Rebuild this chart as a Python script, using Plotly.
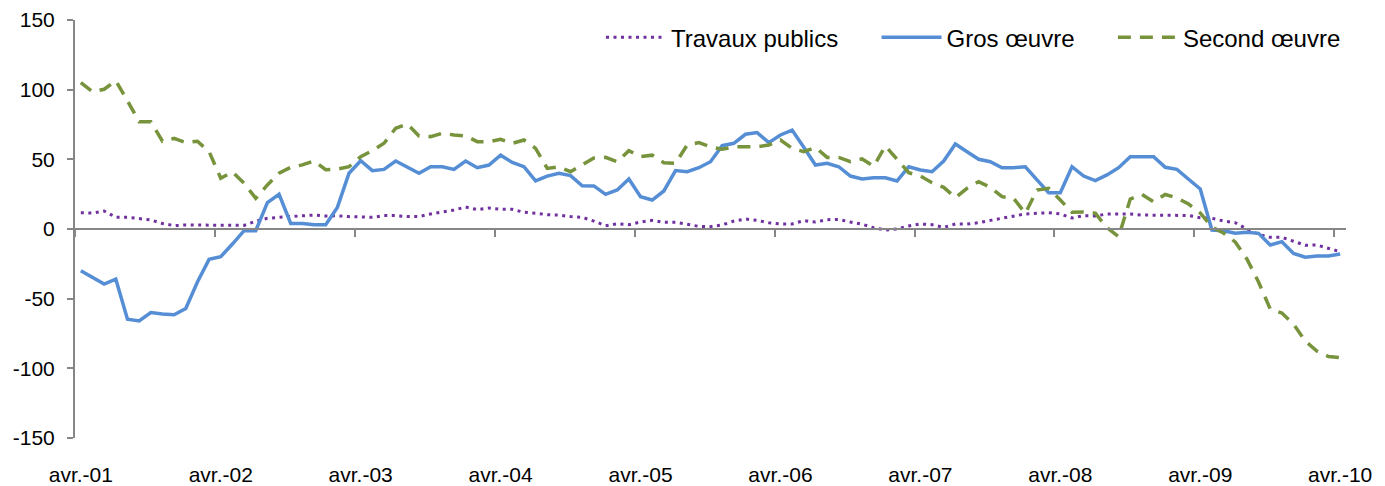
import plotly.graph_objects as go

# Monthly data, avr. 2001 -> avr. 2010 (109 months)
years = ["01", "02", "03", "04", "05", "06", "07", "08", "09", "10"]
tick_labels = ["avr.-" + y for y in years]
y_ticks = [-150, -100, -50, 0, 50, 100, 150]
y_tick_labels = [str(v) for v in y_ticks]

travaux_publics = [
    11.7, 11.5, 12.9, 8.4, 8.4, 7.2, 6.5, 4.0, 2.4, 2.9, 2.9, 2.9,
    2.9, 2.6, 2.6, 5.7, 7.7, 8.4, 8.9, 9.8, 10.0, 9.3, 9.5, 8.9,
    8.6, 8.4, 9.6, 9.6, 8.9, 8.9, 10.8, 12.0, 13.6, 15.8, 13.9, 15.1,
    14.1, 14.1, 12.0, 11.3, 10.3, 10.0, 8.9, 8.4, 5.7, 2.4, 3.8, 3.1,
    5.0, 6.2, 4.8, 4.8, 3.6, 1.9, 1.7, 2.9, 5.7, 7.2, 6.2, 4.5,
    3.6, 3.6, 6.0, 5.0, 6.7, 6.9, 5.0, 3.4, 0.9, -0.7, 0.0, 2.2,
    3.6, 3.1, 1.2, 3.6, 3.6, 4.5, 6.2, 7.7, 9.1, 10.8, 11.3, 11.7,
    10.8, 7.9, 9.6, 9.3, 10.8, 10.8, 10.8, 10.0, 10.0, 10.0, 10.0, 9.7,
    8.1, 7.7, 5.7, 4.5, 0.0, -3.8, -6.0, -6.0, -8.8, -11.7, -11.5, -14.1,
    -16.3,
]

gros_oeuvre = [
    -30, -34.7, -39.5, -36, -64.8, -66, -60, -61, -61.5, -57, -38, -21.8,
    -19.9, -10.8, -1.2, -1.2, 18.9, 24.9, 4, 4, 3, 3, 15.5, 40,
    49, 41.9, 42.8, 48.8, 44.7, 40, 44.7, 44.7, 42.8, 48.8, 44, 45.9,
    53, 47.8, 44.7, 34.5, 38, 40, 38.3, 31, 30.9, 24.9, 28, 35.9,
    23.2, 20.8, 27.3, 41.9, 41.1, 44, 48.3, 59.8, 61.5, 68, 69.2, 62,
    67.5, 71, 58.6, 45.9, 47.1, 44.7, 38, 35.9, 36.8, 36.8, 34.5, 44.7,
    42.4, 41.1, 48.8, 61, 55.5, 50, 48.3, 44, 44, 44.7, 35.2, 26,
    26, 44.7, 38, 34.7, 38.8, 44, 51.9, 51.9, 51.9, 44.3, 42.8, 35.7,
    28.7, -0.7, -1.2, -3.1, -2.4, -3.1, -11.5, -9.1, -17.5, -20.3, -19.4, -19.4,
    -17.9,
]

second_oeuvre = [
    105, 98.5, 100.3, 106.5, 92, 77, 77, 63, 65, 62, 63, 55.5,
    36.4, 41, 32.8, 22, 31.6, 40, 44.3, 46, 48.8, 42.6, 43, 44.7,
    51.9, 56.2, 61.5, 72.3, 75.4, 66.8, 66.3, 68.7, 67.5, 66.8, 62.7, 62.7,
    64.4, 61.5, 63.9, 57.9, 43.5, 44.7, 41.1, 46, 51, 51.4, 48.3, 56.2,
    51.9, 53, 47.6, 47.1, 60.3, 62, 59, 57.2, 59, 59, 59, 60.3,
    63.9, 57.9, 55.5, 58.6, 51.4, 51.4, 48.3, 50.3, 45, 59.6, 50, 40.4,
    38, 33.2, 29.9, 22.5, 29.2, 34, 29.9, 23.2, 22, 11.3, 28, 29.2,
    20.8, 12, 12.2, 11.3, 1, -5.5, 21.5, 24.8, 19.5, 24.8, 22.3, 17.9,
    11.5, 1.4, -2.9, -9.3, -21.5, -38, -57.4, -60.3, -68.2, -80.4, -87.6, -91.5,
    -92.4,
]

months = list(range(len(gros_oeuvre)))
label_positions = months[::12]
boundary_ticks = [m - 0.5 for m in months[::12]][:len(years) - 1] + [len(months) - 1.5]

FONT = "Liberation Sans, Arial, sans-serif"
GRAY = "#868686"
NB = "\u00a0"

fig = go.Figure()
fig.add_trace(go.Scatter(
    x=months, y=travaux_publics, name="Travaux publics" + NB * 5, mode="lines",
    line=dict(color="#7030A0", width=3, dash="3px,4.5px"),
))
fig.add_trace(go.Scatter(
    x=months, y=gros_oeuvre, name="Gros œuvre" + NB * 5, mode="lines",
    line=dict(color="#558ED5", width=3.5),
))
fig.add_trace(go.Scatter(
    x=months, y=second_oeuvre, name="Second œuvre", mode="lines",
    line=dict(color="#77933C", width=3.5, dash="13px,9px"),
))
# helper trace for the axis drawn at y = 0
fig.add_trace(go.Scatter(x=[months[0]], y=[0], xaxis="x2", mode="lines",
                         showlegend=False, hoverinfo="skip",
                         line=dict(color="rgba(0,0,0,0)")))

xr = [-0.5, len(months) - 0.5]
fig.update_layout(
    width=1377, height=478,
    margin=dict(l=67, r=39, t=12, b=48, autoexpand=False),
    paper_bgcolor="white", plot_bgcolor="white",
    font=dict(family=FONT, color="black"),
    showlegend=True,
    legend=dict(orientation="h", x=1.0, xanchor="right",
                yref="container", y=0.985, yanchor="top",
                font=dict(size=24, family=FONT), bgcolor="rgba(0,0,0,0)",
                itemwidth=60, tracegroupgap=0),
    xaxis=dict(range=xr, tickmode="array", tickvals=label_positions,
               ticktext=tick_labels, showline=False, showgrid=False,
               zeroline=False, ticks="outside", ticklen=18, automargin=False,
               tickcolor="rgba(0,0,0,0)", tickfont=dict(size=21, family=FONT)),
    xaxis2=dict(range=xr, overlaying="x", anchor="free", position=0.5,
                showline=True, linecolor=GRAY, linewidth=2, automargin=False,
                ticks="outside", ticklen=7, tickwidth=2, tickcolor=GRAY,
                tickmode="array", tickvals=boundary_ticks,
                showticklabels=False, showgrid=False, zeroline=False),
    yaxis=dict(range=[-150, 150], tickmode="array",
               tickvals=y_ticks, ticktext=y_tick_labels, automargin=False,
               showline=True, linecolor=GRAY, linewidth=2,
               ticks="outside", ticklen=6, tickwidth=2, tickcolor=GRAY,
               showgrid=False, zeroline=False,
               tickfont=dict(size=21, family=FONT), ticklabelstandoff=8),
)

fig.write_html("out.html")
